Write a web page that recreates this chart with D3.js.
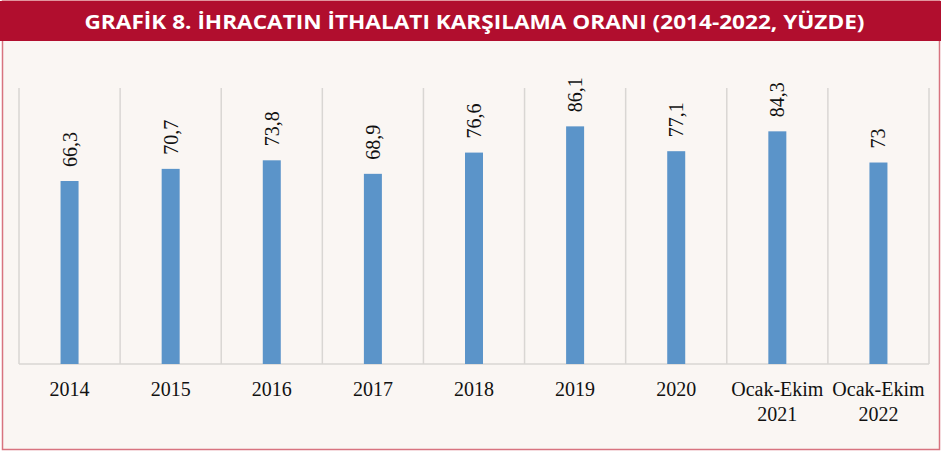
<!DOCTYPE html>
<html>
<head>
<meta charset="utf-8">
<title>Grafik 8</title>
<script src="https://d3js.org/d3.v7.min.js"></script>
<style>
  body { margin: 0; background: #ffffff; }
  svg { display: block; }
</style>
</head>
<body>
<div id="chart"></div>
<script>
// veriler
var categories = ["2014", "2015", "2016", "2017", "2018", "2019", "2020", "Ocak-Ekim\n2021", "Ocak-Ekim\n2022"];
var values = [66.3, 70.7, 73.8, 68.9, 76.6, 86.1, 77.1, 84.3, 73];
var valueLabels = ["66,3", "70,7", "73,8", "68,9", "76,6", "86,1", "77,1", "84,3", "73"];
var titleText = "GRAFİK 8. İHRACATIN İTHALATI KARŞILAMA ORANI (2014-2022, YÜZDE)";

var W = 941, H = 451;
var margin = {top: 88, right: 12, bottom: 87, left: 19},
    width = W - margin.left - margin.right,
    height = H - margin.top - margin.bottom;

var svg = d3.select("#chart").append("svg")
    .attr("width", W)
    .attr("height", H);

// arka plan ve çerçeve
svg.append("rect")
    .attr("x", 2.5).attr("y", 1).attr("width", W - 4).attr("height", H - 2.5)
    .attr("fill", "#faf6f3")
    .attr("stroke", "#d8737f")
    .attr("stroke-width", 1.5);

// başlık bandı
svg.append("rect")
    .attr("x", 0).attr("y", 1).attr("width", W).attr("height", 40)
    .attr("fill", "#b10e2e");

svg.append("text")
    .attr("x", W / 2 + 4).attr("y", 29)
    .attr("text-anchor", "middle")
    .attr("fill", "#ffffff")
    .attr("font-family", "'Open Sans', sans-serif")
    .attr("font-weight", "bold")
    .attr("font-size", "19px")
    .attr("textLength", 780)
    .attr("lengthAdjust", "spacingAndGlyphs")
    .text(titleText);

var g = svg.append("g")
    .attr("transform", "translate(" + margin.left + "," + margin.top + ")");

var x = d3.scaleBand()
    .domain(categories)
    .range([0, width]);

var y = d3.scaleLinear()
    .domain([0, 100])
    .range([height, 0]);

// dikey ızgara çizgileri
var edges = categories.map(function(c) { return x(c); }).concat([width]);
g.selectAll("line.grid")
    .data(edges)
  .enter().append("line")
    .attr("class", "grid")
    .attr("x1", function(d) { return d; })
    .attr("x2", function(d) { return d; })
    .attr("y1", 0)
    .attr("y2", height)
    .attr("stroke", "#d9d6d3")
    .attr("stroke-width", 1.5);

// x ekseni
g.append("line")
    .attr("x1", 0).attr("x2", width)
    .attr("y1", height).attr("y2", height)
    .attr("stroke", "#d9d6d3")
    .attr("stroke-width", 1.5);

var barW = 18;

// çubuklar
g.selectAll("rect.bar")
    .data(values)
  .enter().append("rect")
    .attr("class", "bar")
    .attr("x", function(d, i) { return x(categories[i]) + x.bandwidth() / 2 - barW / 2; })
    .attr("y", function(d) { return y(d); })
    .attr("width", barW)
    .attr("height", function(d) { return height - y(d); })
    .attr("fill", "#5b94c9");

// değer etiketleri (dikey)
g.selectAll("text.val")
    .data(values)
  .enter().append("text")
    .attr("class", "val")
    .attr("transform", function(d, i) {
        var cx = x(categories[i]) + x.bandwidth() / 2 + 7;
        return "translate(" + cx + "," + (y(d) - 14) + ") rotate(-90)";
    })
    .attr("font-family", "'Liberation Serif', 'Times New Roman', serif")
    .attr("font-size", "20px")
    .attr("fill", "#111")
    .text(function(d, i) { return valueLabels[i]; });

// kategori etiketleri
var cat = g.selectAll("text.cat")
    .data(categories)
  .enter().append("text")
    .attr("class", "cat")
    .attr("text-anchor", "middle")
    .attr("font-family", "'Liberation Serif', 'Times New Roman', serif")
    .attr("font-size", "20px")
    .attr("fill", "#111")
    .attr("transform", function(d) {
        return "translate(" + (x(d) + x.bandwidth() / 2) + "," + (height + 32) + ")";
    });

cat.selectAll("tspan")
    .data(function(d) { return d.split("\n"); })
  .enter().append("tspan")
    .attr("x", 0)
    .attr("dy", function(d, i) { return i === 0 ? 0 : 25; })
    .text(function(d) { return d; });
</script>
</body>
</html>
